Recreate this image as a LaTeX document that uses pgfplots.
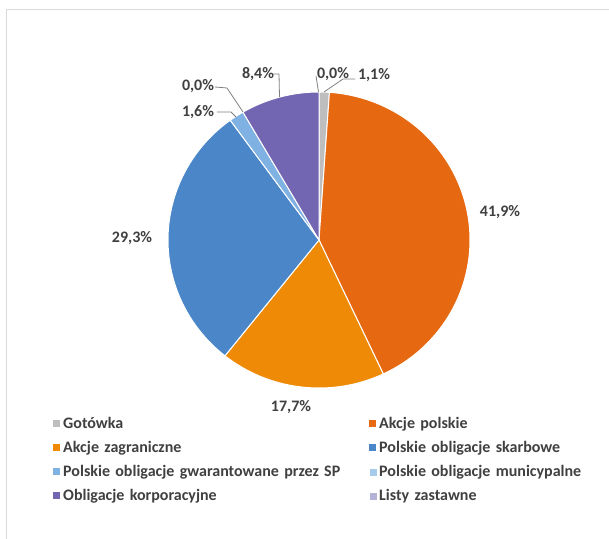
\documentclass[border=0pt]{standalone}
\usepackage{fontspec}
\setmainfont{Carlito}
\usepackage{pgfplots}
\pgfplotsset{compat=1.18}

\definecolor{cGot}{RGB}{190,190,190}
\definecolor{cAPL}{RGB}{230,104,16}
\definecolor{cAZ}{RGB}{238,138,6}
\definecolor{cSkarb}{RGB}{74,134,200}
\definecolor{cGwar}{RGB}{127,177,226}
\definecolor{cMuni}{RGB}{166,203,235}
\definecolor{cKorp}{RGB}{114,102,178}
\definecolor{cList}{RGB}{181,178,216}
\definecolor{txt}{RGB}{64,64,64}
\definecolor{lead}{RGB}{128,128,128}
\definecolor{frame}{RGB}{217,217,217}

\newcommand\lblfont{\fontsize{16}{19}\selectfont\bfseries}
\gdef\cum{90}
% #1 value (percent), #2 colour, #3 legend text
\newcommand\pieslice[3]{%
  \pgfmathsetmacro\sb{\cum}%
  \pgfmathsetmacro\sa{\cum-3.6*#1}%
  \xdef\cum{\sa}%
  \pgfmathparse{#1>0?1:0}%
  \ifdim\pgfmathresult pt>0.5pt
    \edef\doplot{\noexpand\addplot[fill=#2, draw=white, line width=1pt,
      domain=\sa:\sb, samples=90,
      legend image code/.code={\noexpand\fill[#2] (0pt,-2pt) rectangle (6pt,4pt);}]
      ({319+151*cos(x)},{298+148*sin(x)}) -- (axis cs:319,298) -- cycle;}%
    \doplot
  \else
    \addlegendimage{legend image code/.code={\fill[#2] (0pt,-2pt) rectangle (6pt,4pt);}}%
  \fi
  \addlegendentry{#3}%
}

\begin{document}
\begin{tikzpicture}
\useasboundingbox (0pt,0pt) rectangle (609pt,538pt);
\fill[white] (0pt,0pt) rectangle (609pt,538pt);
\draw[frame, line width=1pt] (6.5pt,-2pt) -- (6.5pt,528pt) -- (620pt,528pt);
\begin{axis}[
  at={(0pt,0pt)}, anchor=origin,
  scale only axis, width=609pt, height=538pt,
  xmin=0, xmax=609, ymin=0, ymax=538,
  hide axis, clip=false,
  legend columns=2,
  legend cell align=left,
  legend style={
    at={(axis cs:53,121.5)}, anchor=north west,
    draw=none, fill=none, inner sep=0pt,
    row sep=8pt,
    font=\lblfont, text=txt,
    nodes={inner sep=0pt, text width=300pt, align=left, text height=12pt, text depth=4pt},
    /tikz/every odd column/.append style={column sep=3pt},
    /tikz/every even column/.append style={column sep=6pt},
  },
]
\pieslice{1.1}{cGot}{Gotówka}
\pieslice{41.9}{cAPL}{Akcje polskie}
\pieslice{17.7}{cAZ}{Akcje zagraniczne}
\pieslice{29.3}{cSkarb}{Polskie obligacje skarbowe}
\pieslice{1.6}{cGwar}{Polskie obligacje gwarantowane przez SP}
\pieslice{0.0}{cMuni}{Polskie obligacje municypalne}
\pieslice{8.4}{cKorp}{Obligacje korporacyjne}
\pieslice{0.0}{cList}{Listy zastawne}

% leader lines
\draw[lead, line width=0.8pt] (axis cs:217,426) -- (axis cs:231,426) -- (axis cs:236,421);
\draw[lead, line width=0.8pt] (axis cs:215,451) -- (axis cs:227,450) -- (axis cs:243,426);
\draw[lead, line width=0.8pt] (axis cs:273,464) -- (axis cs:279,464) -- (axis cs:279.5,441);
\draw[lead, line width=0.8pt] (axis cs:316,462) -- (axis cs:318.5,446);
\draw[lead, line width=0.8pt] (axis cs:355,459) -- (axis cs:343,459) -- (axis cs:324,446);

% data labels
\node[font=\lblfont, text=txt, inner sep=0pt] at (axis cs:500,326) {41,9\%};
\node[font=\lblfont, text=txt, inner sep=0pt] at (axis cs:291,131) {17,7\%};
\node[font=\lblfont, text=txt, inner sep=0pt] at (axis cs:132,300) {29,3\%};
\node[font=\lblfont, text=txt, inner sep=0pt] at (axis cs:198,426) {1,6\%};
\node[font=\lblfont, text=txt, inner sep=0pt] at (axis cs:198,452) {0,0\%};
\node[font=\lblfont, text=txt, inner sep=0pt] at (axis cs:258,464) {8,4\%};
\node[font=\lblfont, text=txt, inner sep=0pt] at (axis cs:333,464) {0,0\%};
\node[font=\lblfont, text=txt, inner sep=0pt] at (axis cs:374,463) {1,1\%};
\end{axis}
\end{tikzpicture}
\end{document}
